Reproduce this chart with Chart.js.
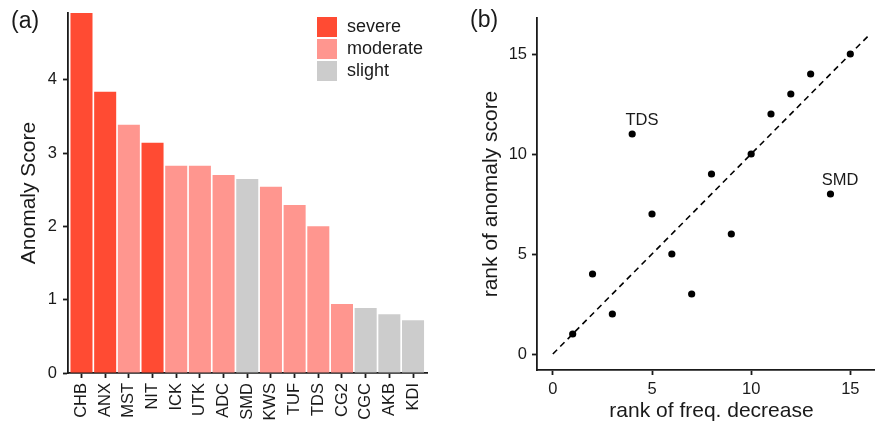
<!DOCTYPE html>
<html>
<head>
<meta charset="utf-8">
<script src="https://cdn.jsdelivr.net/npm/chart.js@4"></script>
<style>
  html, body { margin: 0; padding: 0; background: #fff; overflow: hidden; }
  #wrap { position: relative; width: 875px; height: 425px; overflow: hidden; }
  canvas { position: absolute; top: 0; }
  #barCanvas { left: 0; }
  #rankCanvas { left: 440px; }
</style>
</head>
<body>
<div id="wrap">
  <canvas id="barCanvas" width="440" height="425"></canvas>
  <canvas id="rankCanvas" width="446" height="425"></canvas>
</div>
<script>
// ---- data ----
const categories = ['CHB', 'ANX', 'MST', 'NIT', 'ICK', 'UTK', 'ADC', 'SMD', 'KWS', 'TUF', 'TDS', 'CG2', 'CGC', 'AKB', 'KDI'];
const anomalyScores = [4.91, 3.835, 3.385, 3.14, 2.825, 2.825, 2.70, 2.645, 2.54, 2.29, 2.00, 0.94, 0.885, 0.80, 0.72];
const severity = ['severe', 'severe', 'moderate', 'severe', 'moderate', 'moderate', 'moderate', 'slight',
                  'moderate', 'moderate', 'moderate', 'moderate', 'slight', 'slight', 'slight'];
const severityLevels = ['severe', 'moderate', 'slight'];
const severityColors = ['#FF4B33', '#FF968F', '#CCCCCC'];
const scoreTicks = [0, 1, 2, 3, 4];

const freqDecreaseRank = [1, 3, 7, 2, 6, 9, 5, 14, 8, 10, 4, 11, 12, 13, 15];
const anomalyScoreRank = [1, 2, 3, 4, 5, 6, 7, 8, 9, 10, 11, 12, 13, 14, 15];
const rankTicks = [0, 5, 10, 15];
const identityLine = [0, 16];
const labelledCategories = ['TDS', 'SMD'];

// ---- shared styling ----
const FONT = "'Liberation Sans', Arial, Helvetica, sans-serif";
const INK = '#1a1a1a';
const AXIS_W = 1.8;

// fix the axis box size so the plot area sits exactly where wanted
function fixBox(size) {
  return s => {
    if (s.isHorizontal()) s.height = size; else s.width = size;
    s.paddingTop = s.paddingBottom = s.paddingLeft = s.paddingRight = 0;
  };
}
function setTicks(values) {
  return s => { s.ticks = values.map(v => ({ value: v })); };
}
function axisGrid() {
  return { display: true, drawOnChartArea: false, drawTicks: true, tickLength: 5,
           tickWidth: AXIS_W, tickColor: INK, offset: false };
}
function axisBorder() {
  return { display: true, color: INK, width: AXIS_W };
}
function panelTag(text, x, y) {
  return {
    id: 'panelTag',
    afterDraw(chart) {
      const ctx = chart.ctx;
      ctx.save();
      ctx.font = `23px ${FONT}`;
      ctx.fillStyle = INK;
      ctx.textBaseline = 'alphabetic';
      ctx.textAlign = 'left';
      ctx.fillText(text, x, y);
      ctx.restore();
    }
  };
}

// ---- (a) anomaly score bars ----
const severityLegend = {
  id: 'severityLegend',
  afterDraw(chart) {
    const ctx = chart.ctx;
    ctx.save();
    ctx.font = `18px ${FONT}`;
    ctx.textBaseline = 'middle';
    ctx.textAlign = 'left';
    severityLevels.forEach((lvl, i) => {
      const top = 17 + i * 22;
      ctx.fillStyle = severityColors[i];
      ctx.fillRect(317, top, 20, 20);
      ctx.fillStyle = INK;
      ctx.fillText(lvl, 347, top + 10.5);
    });
    ctx.restore();
  }
};

new Chart(document.getElementById('barCanvas'), {
  type: 'bar',
  data: {
    datasets: [{
      data: anomalyScores.map((v, i) => ({ x: i, y: v })),
      backgroundColor: severity.map(s => severityColors[severityLevels.indexOf(s)]),
      borderWidth: 0,
      barPercentage: 0.93,
      categoryPercentage: 1
    }]
  },
  options: {
    responsive: false,
    devicePixelRatio: 1,
    animation: false,
    layout: { autoPadding: false, padding: { left: 0, right: 13, top: 13, bottom: 0 } },
    plugins: { legend: { display: false }, tooltip: { enabled: false } },
    scales: {
      x: {
        type: 'linear',
        offset: false,
        min: -0.57,
        max: 14.59,
        afterBuildTicks: setTicks(categories.map((c, i) => i)),
        afterFit: fixBox(52),
        ticks: {
          autoSkip: false, minRotation: 90, maxRotation: 90, padding: 5,
          color: INK, font: { family: FONT, size: 16.5 },
          callback: v => categories[v]
        },
        grid: axisGrid(),
        border: axisBorder()
      },
      y: {
        min: 0,
        max: Math.max(...anomalyScores),
        afterBuildTicks: setTicks(scoreTicks),
        afterFit: fixBox(68),
        ticks: { padding: 6, color: INK, font: { family: FONT, size: 16.5 } },
        title: {
          display: true, text: 'Anomaly Score', color: INK,
          font: { family: FONT, size: 21 }, padding: { top: 17, bottom: 0 }
        },
        grid: axisGrid(),
        border: axisBorder()
      }
    }
  },
  plugins: [severityLegend, panelTag('(a)', 11, 28)]
});

// ---- (b) rank comparison ----
const pointNames = {
  id: 'pointNames',
  afterDatasetsDraw(chart) {
    const ctx = chart.ctx;
    const xs = chart.scales.x, ys = chart.scales.y;
    ctx.save();
    ctx.font = `16.5px ${FONT}`;
    ctx.fillStyle = INK;
    ctx.textAlign = 'center';
    ctx.textBaseline = 'middle';
    labelledCategories.forEach(name => {
      const i = categories.indexOf(name);
      const px = xs.getPixelForValue(freqDecreaseRank[i]);
      const py = ys.getPixelForValue(anomalyScoreRank[i]);
      ctx.fillText(name, px + 9.7, py - 14);
    });
    ctx.restore();
  }
};

new Chart(document.getElementById('rankCanvas'), {
  type: 'scatter',
  data: {
    datasets: [
      {
        type: 'scatter',
        data: categories.map((c, i) => ({ x: freqDecreaseRank[i], y: anomalyScoreRank[i] })),
        pointRadius: 3.6,
        pointBackgroundColor: '#000',
        pointBorderWidth: 0,
        order: 0
      },
      {
        type: 'line',
        data: identityLine.map(v => ({ x: v, y: v })),
        borderColor: '#000',
        borderWidth: 1.6,
        borderDash: [6, 4.5],
        pointRadius: 0,
        fill: false,
        order: 1
      }
    ]
  },
  options: {
    responsive: false,
    devicePixelRatio: 1,
    animation: false,
    layout: { autoPadding: false, padding: { left: 0, right: 0, top: 18, bottom: 0 } },
    plugins: { legend: { display: false }, tooltip: { enabled: false } },
    scales: {
      x: {
        type: 'linear',
        min: -0.8,
        max: 16.8,
        afterBuildTicks: setTicks(rankTicks),
        afterFit: fixBox(55),
        ticks: { padding: 5, color: INK, font: { family: FONT, size: 16.5 } },
        title: {
          display: true, text: 'rank of freq. decrease', color: INK,
          font: { family: FONT, size: 21 }, padding: { top: 0, bottom: 1.5 }
        },
        grid: axisGrid(),
        border: axisBorder()
      },
      y: {
        min: -0.8,
        max: 16.8,
        afterBuildTicks: setTicks(rankTicks),
        afterFit: fixBox(97),
        ticks: { padding: 5, color: INK, font: { family: FONT, size: 16.5 } },
        title: {
          display: true, text: 'rank of anomaly score', color: INK,
          font: { family: FONT, size: 21 }, padding: { top: 39, bottom: 0 }
        },
        grid: axisGrid(),
        border: axisBorder()
      }
    }
  },
  plugins: [pointNames, panelTag('(b)', 30, 27)]
});
</script>
</body>
</html>
